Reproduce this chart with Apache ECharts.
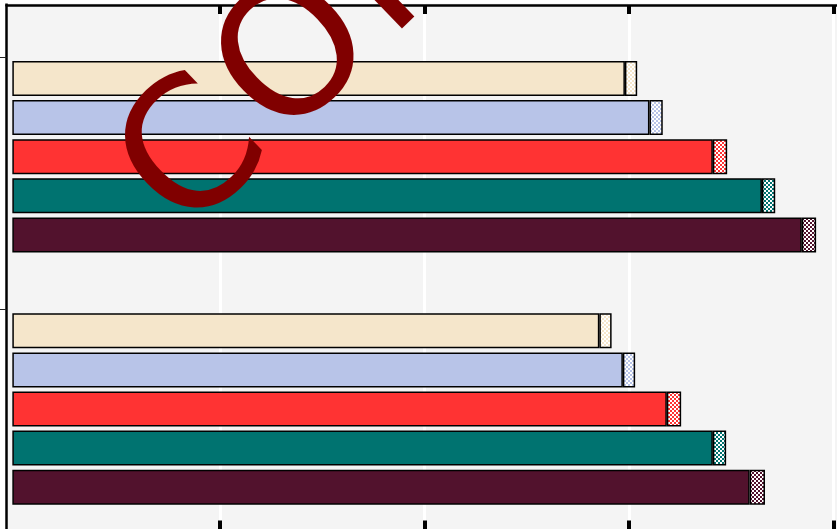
<!DOCTYPE html>
<html>
<head>
<meta charset="utf-8">
<script src="https://cdn.jsdelivr.net/npm/echarts@6/dist/echarts.min.js"></script>
<style>
  html, body { margin: 0; padding: 0; background: #ffffff; }
  #chart { width: 837px; height: 529px; }
</style>
</head>
<body>
<div id="chart"></div>
<script>
// Two groups of five horizontal bars; each bar = solid value + checkered margin on its tip.
const groups = ['Group 1', 'Group 2'];
const seriesNames = ['Series A', 'Series B', 'Series C', 'Series D', 'Series E'];
const colors = ['#f5e6cb', '#b8c4e8', '#ff3333', '#007370', '#52122d'];

const valuesGroup1 = [59.6, 62.0, 68.2, 73.0, 76.9];
const marginGroup1 = [1.2, 1.3, 1.4, 1.3, 1.4];
const valuesGroup2 = [57.1, 59.4, 63.7, 68.2, 71.8];
const marginGroup2 = [1.2, 1.2, 1.4, 1.3, 1.5];

const gridTicks = [20, 40, 60, 80];

// small checkerboard tile used for the margin segments
function checker(color) {
  const c = document.createElement('canvas');
  c.width = 4; c.height = 4;
  const g = c.getContext('2d');
  g.fillStyle = '#ffffff';
  g.fillRect(0, 0, 4, 4);
  g.fillStyle = color;
  g.fillRect(0, 0, 2, 2);
  g.fillRect(2, 2, 2, 2);
  return c;
}

// a leading empty band keeps the category ticks on the group boundaries
const categories = [''].concat(groups);

const BAND = 252.3;
const GRID_TOP = 57 - BAND;
const BAR_W = 35;
const GAP = '11.7%';
const border = { borderColor: '#000000', borderWidth: 1.5 };

const series = [];
seriesNames.forEach((name, i) => {
  series.push({
    type: 'bar', name: name, stack: name, barWidth: BAR_W, barGap: GAP,
    xAxisIndex: 0, yAxisIndex: 0,
    data: [null, valuesGroup1[i], valuesGroup2[i]],
    itemStyle: Object.assign({ color: colors[i] }, border)
  });
  series.push({
    type: 'bar', name: name + ' margin', stack: name, barWidth: BAR_W, barGap: GAP,
    xAxisIndex: 0, yAxisIndex: 0,
    data: [null, marginGroup1[i], marginGroup2[i]],
    itemStyle: Object.assign({ color: { image: checker(colors[i]), repeat: 'repeat' } }, border)
  });
});
// empty spacer column below the five bars of each group
series.push({
  type: 'bar', name: 'spacer', stack: 'spacer', barWidth: 48.8, barGap: GAP,
  xAxisIndex: 0, yAxisIndex: 0, data: [null, null, null]
});

// diagonal stamp, letter-spaced
const STAMP = 'CONFIDENTIAL';
const STAMP_FONT = 'normal 180px "DejaVu Sans"';
const STAMP_SPACING = 8;
const measure = document.createElement('canvas').getContext('2d');
measure.font = STAMP_FONT;
const stampLetters = [];
let pen = 0;
for (const ch of STAMP) {
  stampLetters.push({
    type: 'text', x: pen, y: 0, z: 100, silent: true,
    style: { text: ch, font: STAMP_FONT, fill: '#800000', align: 'left', verticalAlign: 'middle' }
  });
  pen += measure.measureText(ch).width + STAMP_SPACING;
}

const X_MIN = -0.88, X_MAX = 83.57;
const chart = echarts.init(document.getElementById('chart'), null, { renderer: 'canvas' });
chart.setOption({
  animation: false,
  backgroundColor: '#ffffff',
  grid: {
    left: 6.5, top: GRID_TOP, width: 863.5, height: 3 * BAND,
    outerBoundsMode: 'none', containLabel: false,
    show: true, backgroundColor: '#f4f4f4', borderWidth: 0
  },
  xAxis: [
    {
      type: 'value', position: 'top', offset: -(5 - GRID_TOP),
      min: X_MIN, max: X_MAX, startValue: -0.31,
      axisLine: { show: true, onZero: false, lineStyle: { color: '#000000', width: 2.5 } },
      axisTick: { show: true, inside: true, length: 9, customValues: gridTicks,
                  lineStyle: { color: '#000000', width: 4 } },
      axisLabel: { show: false },
      splitLine: { show: true, lineStyle: { color: '#ffffff', width: 3 } }
    },
    {
      type: 'value', position: 'bottom', offset: -(GRID_TOP + 3 * BAND - 530.5),
      min: X_MIN, max: X_MAX,
      axisLine: { show: true, onZero: false, lineStyle: { color: '#000000', width: 2.5 } },
      axisTick: { show: true, inside: true, length: 10, customValues: gridTicks,
                  lineStyle: { color: '#000000', width: 4 } },
      axisLabel: { show: false },
      splitLine: { show: false }
    }
  ],
  yAxis: {
    type: 'category', inverse: true, data: categories, boundaryGap: true,
    axisLine: { show: true, onZero: false, lineStyle: { color: '#000000', width: 2.5 } },
    axisTick: { show: true, inside: false, length: 7, interval: 0,
                lineStyle: { color: '#222222', width: 1 } },
    axisLabel: { show: false, interval: 0 },
    splitLine: { show: false }
  },
  series: series,
  graphic: [
    { type: 'rect', silent: true, z: 50,
      shape: { x: 0, y: 0, width: 837, height: 3.6 }, style: { fill: '#ffffff' } },
    { type: 'group', silent: true, z: 100, x: 153, y: 204, rotation: 44 * Math.PI / 180,
      children: stampLetters }
  ]
});
</script>
</body>
</html>
